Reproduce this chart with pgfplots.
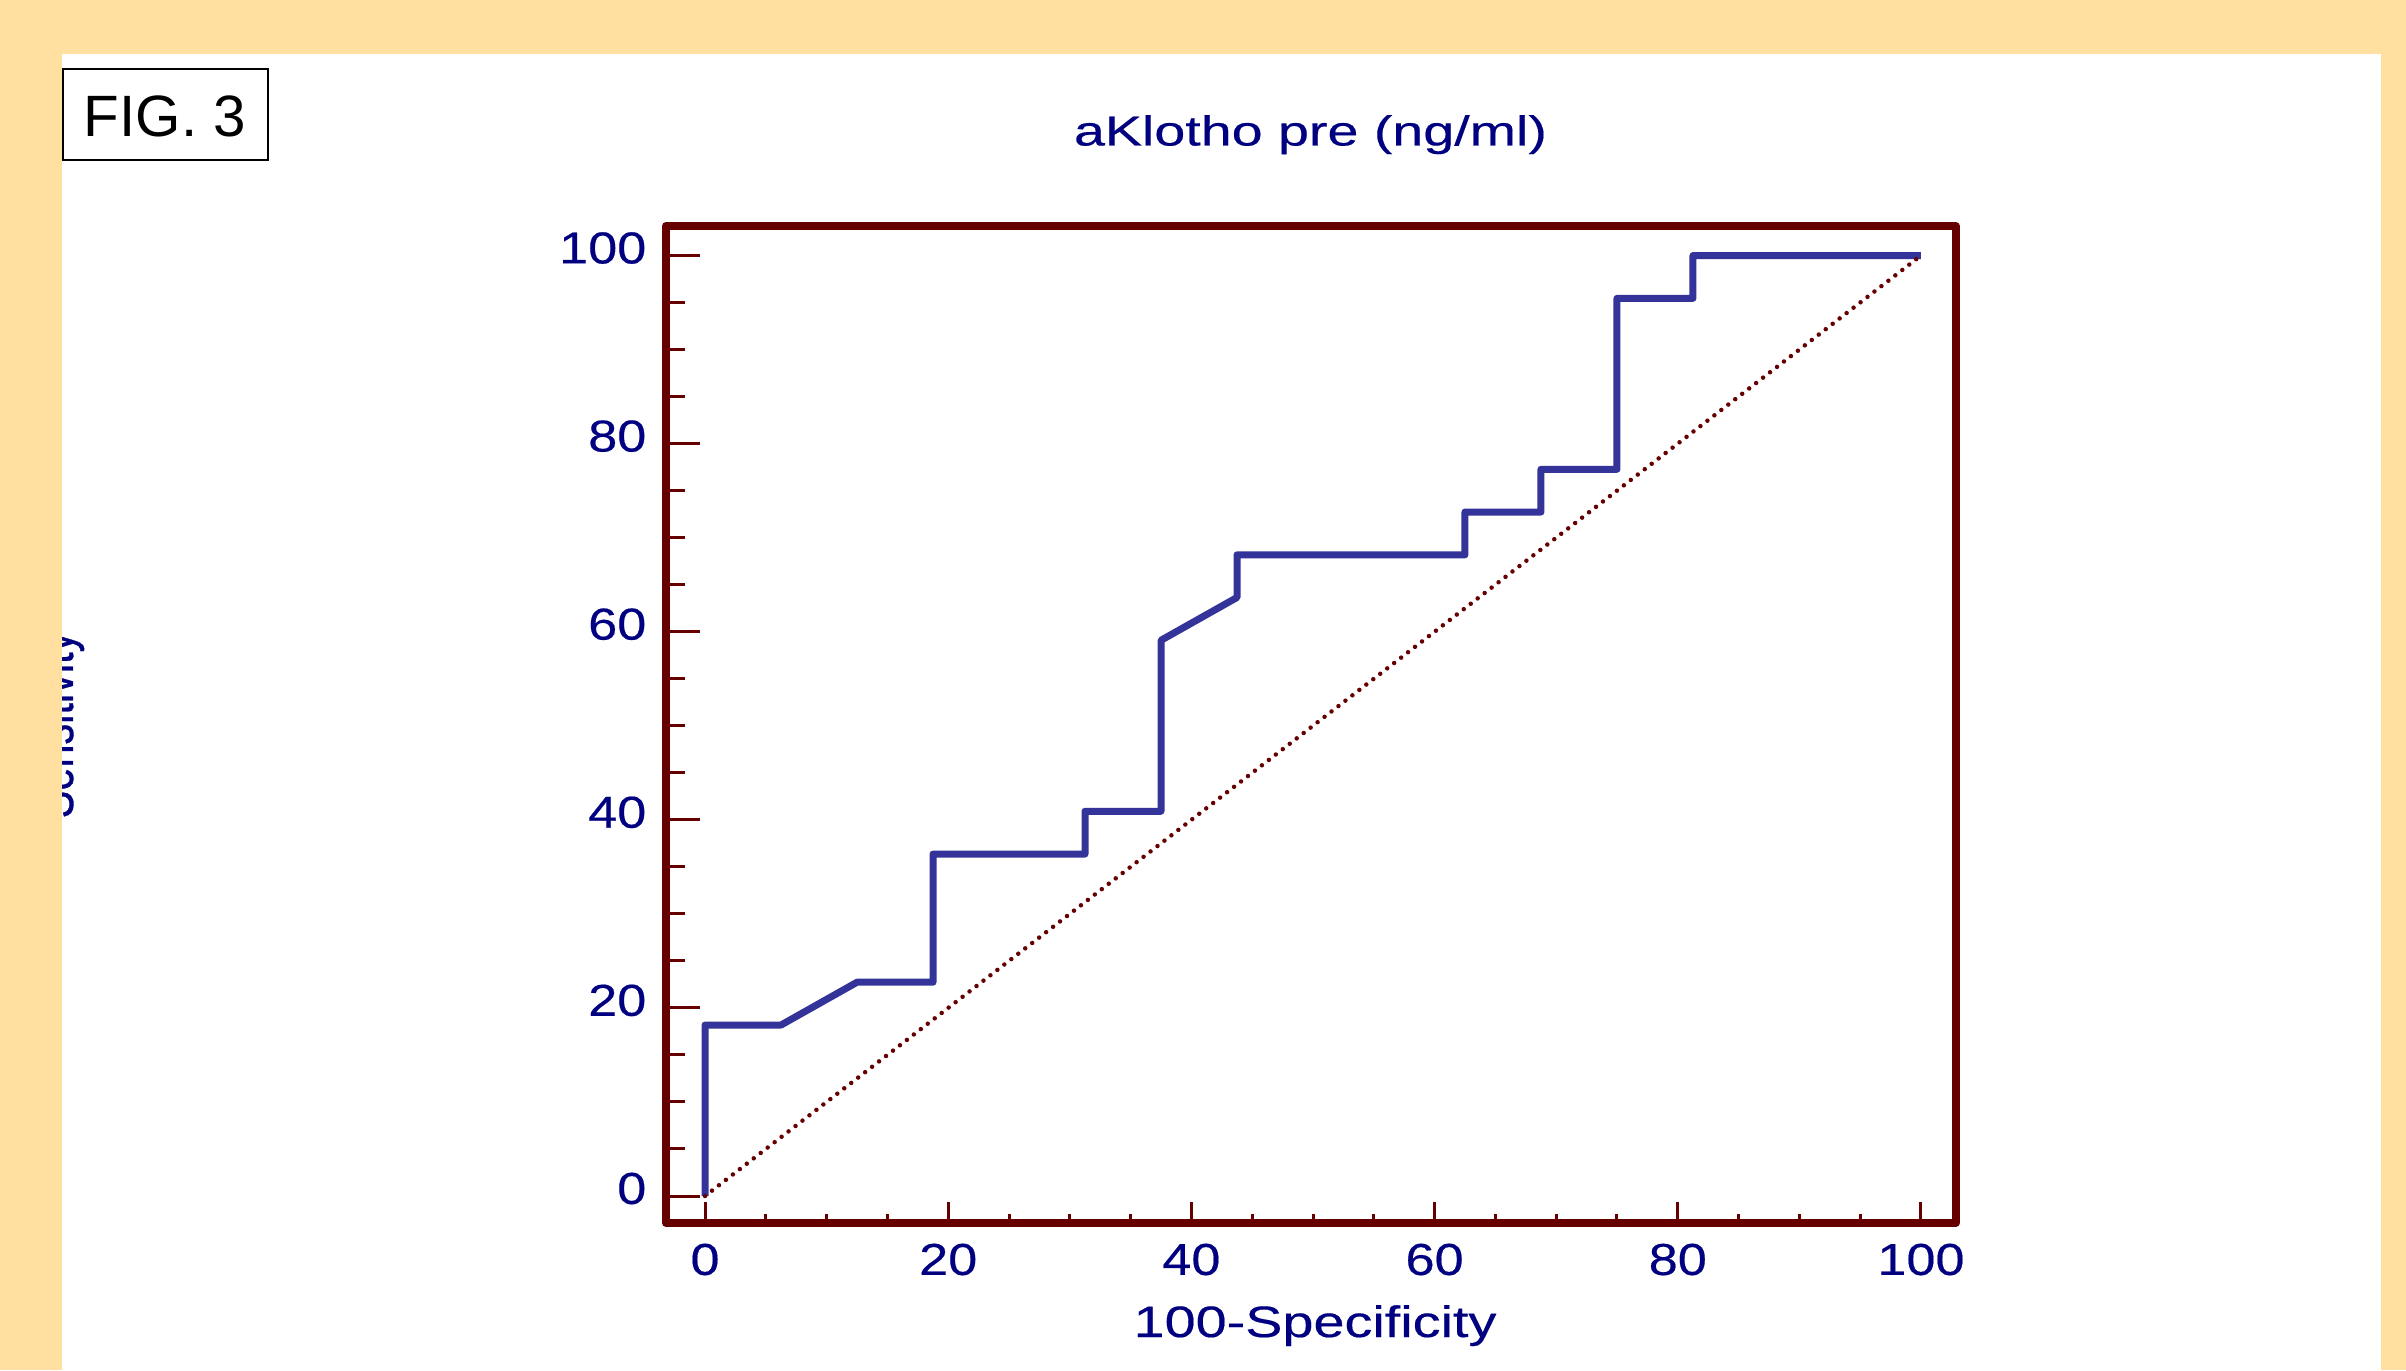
\documentclass[border=0pt]{standalone}
\usepackage{fontspec}
\setmainfont{Liberation Sans}
\newfontfamily\ftick[FakeStretch=1.17,FakeBold=0.4]{Liberation Sans}
\newfontfamily\ftitle[FakeStretch=1.33,FakeBold=0.4]{Liberation Sans}
\newfontfamily\fxlab[FakeStretch=1.27,FakeBold=0.4]{Liberation Sans}
\newfontfamily\fylab[FakeBold=0.6]{Liberation Sans}
\usepackage{graphicx}
\usepackage{pgfplots}
\pgfplotsset{compat=1.18}

\definecolor{beige}{HTML}{FFE0A0}
\definecolor{maroon}{HTML}{660000}
\definecolor{navy}{HTML}{000080}
\definecolor{rocblue}{HTML}{333399}

\pgfplotsset{
  rocframe/.style={
    scale only axis, at={(66.6mm,14.7mm)}, anchor=south west,
    width=128.95mm, height=99.7mm,
    xmin=-3.21, xmax=102.84, ymin=-2.87, ymax=103.14,
    tick align=inside,
    tick style={maroon, line width=0.3mm},
    /pgf/number format/assume math mode=true,
  }
}

\begin{document}
\begin{tikzpicture}
\fill[beige] (0,0) rectangle (240.6mm,137mm);
\fill[white] (6.2mm,0) rectangle (238.1mm,131.6mm);

% box, y ticks and the curves
\begin{axis}[
  rocframe,
  axis line style={maroon, line width=0.8mm, line join=round},
  xtick=\empty,
  ytick={0,20,...,100}, minor y tick num=3,
  ytick pos=left,
  major tick length=3.4mm, minor tick length=1.9mm,
  yticklabel style={font=\ftick\fontsize{12.7}{15}\selectfont, text=navy,
    anchor=east, inner sep=0pt, xshift=-1.9mm, yshift=0.75mm},
]
\addplot[rocblue, line width=0.7mm, line join=round] coordinates {
  (0,0) (0,18.18) (6.25,18.18) (12.5,22.73) (18.75,22.73) (18.75,36.36)
  (31.25,36.36) (31.25,40.91) (37.5,40.91) (37.5,59.09) (43.75,63.64)
  (43.75,68.18) (62.5,68.18) (62.5,72.73) (68.75,72.73) (68.75,77.27)
  (75,77.27) (75,95.45) (81.25,95.45) (81.25,100) (100,100)
};
\addplot[maroon, line width=0.45mm, line cap=round,
  dash pattern=on 0pt off 0.88mm] coordinates {(0,0) (100,100)};
\end{axis}

% x ticks (shorter than the y ticks)
\begin{axis}[
  rocframe,
  axis line style={draw=none},
  ytick=\empty,
  xtick={0,20,...,100}, minor x tick num=3,
  xtick pos=bottom,
  major tick length=2.1mm, minor tick length=0.95mm,
  xticklabel style={font=\ftick\fontsize{12.7}{15}\selectfont, text=navy,
    anchor=north, inner sep=0pt, yshift=-2mm},
]
\end{axis}

\node[anchor=base, inner sep=0pt, text=navy,
  font=\ftitle\fontsize{11.9}{14}\selectfont] at (131.05mm,122.45mm)
  {aKlotho pre (ng/ml)};
\node[anchor=base, inner sep=0pt, text=navy,
  font=\fxlab\fontsize{12.5}{15}\selectfont] at (131.5mm,3.3mm)
  {100-Specificity};
\node[rotate=90, anchor=base, inner sep=0pt, text=navy] at (7.3mm,64.5mm)
  {\scalebox{1}[1.3]{\fylab\fontsize{11.8}{14}\selectfont Sensitivity}};

% left margin hides most of the y label
\fill[beige] (0,0) rectangle (6.2mm,137mm);

\draw[black, line width=0.2mm] (6.3mm,121.0mm) rectangle (26.8mm,130.1mm);
\node[anchor=base, inner sep=0pt, font=\fontsize{16.6}{19}\selectfont]
  at (16.5mm,123.3mm) {FIG. 3};
\end{tikzpicture}
\end{document}
